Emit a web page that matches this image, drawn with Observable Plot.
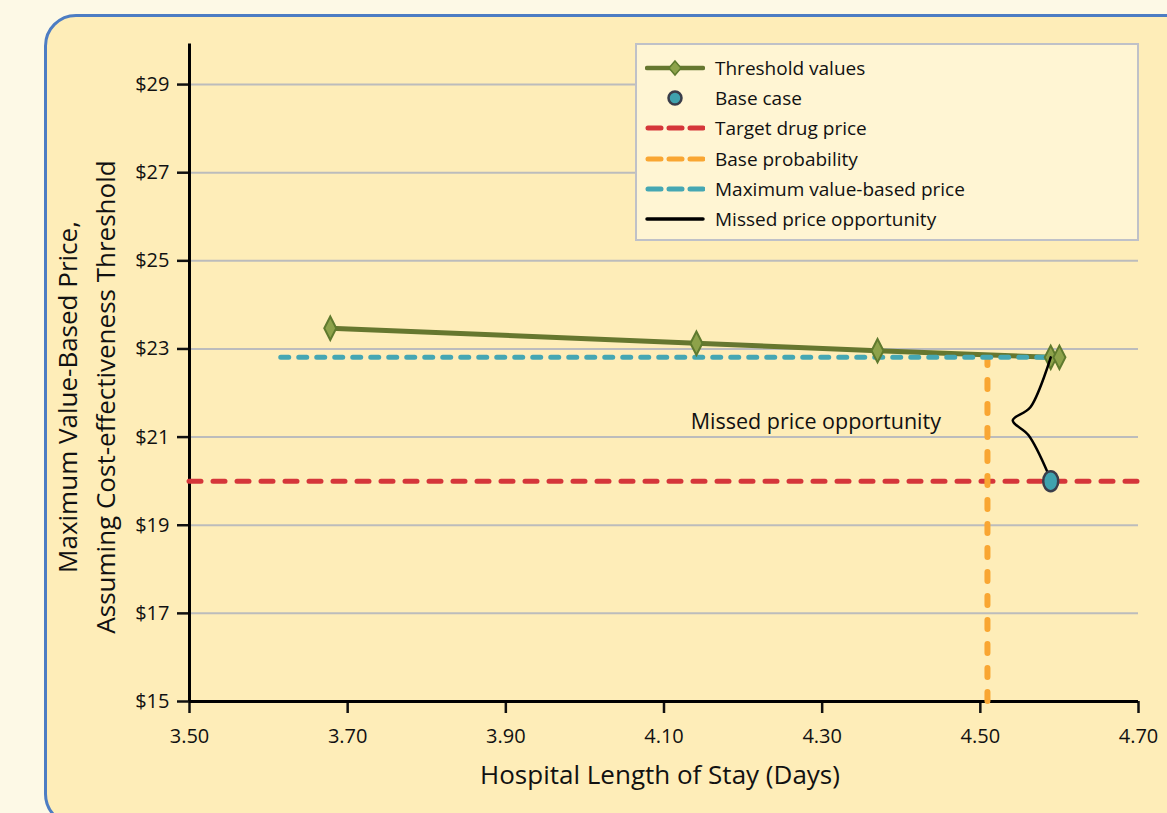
<!DOCTYPE html>
<html>
<head>
<meta charset="utf-8">
<script src="https://cdn.jsdelivr.net/npm/d3@7"></script>
<script src="https://cdn.jsdelivr.net/npm/@observablehq/plot@0.6"></script>
<style>
  html, body { margin: 0; padding: 0; }
  body { width: 1167px; height: 813px; overflow: hidden; background: #fdf9e6; position: relative; font-family: "Open Sans", "Noto Sans", sans-serif; }
  #panel { position: absolute; left: 44px; top: 14px; width: 1200px; height: 812px; border: 3px solid #4d7dc3; border-radius: 32px; background: #feedb8; box-sizing: border-box; }
  #chart { position: absolute; left: 0; top: 0; }
  #legend { position: absolute; left: 635px; top: 43px; width: 504px; height: 198px; background: #fff5d3; border: 2px solid #bfc1c8; box-sizing: border-box; padding-top: 8px; }
  .row { height: 30.2px; display: flex; align-items: center; font-size: 19px; color: #111; }
  .row svg { margin-left: 8px; margin-right: 10px; flex: none; }
</style>
</head>
<body>
<div id="panel"></div>
<div id="chart"></div>
<div id="legend"></div>
<script>
// ---- data ----
const xTicks = [3.5, 3.7, 3.9, 4.1, 4.3, 4.5, 4.7];
const xTickLabels = ["3.50", "3.70", "3.90", "4.10", "4.30", "4.50", "4.70"];
const yTicks = [15, 17, 19, 21, 23, 25, 27, 29];
const yTickLabels = ["$15", "$17", "$19", "$21", "$23", "$25", "$27", "$29"];

const thresholdLOS = [3.678, 4.141, 4.370, 4.589, 4.600];
const thresholdPrice = [23.47, 23.13, 22.96, 22.81, 22.81];

const baseCaseLOS = [4.589];
const baseCasePrice = [20.0];

const targetDrugPrice = [20.0];
const baseProbabilityLOS = [4.509];
const maxValuePrice = [22.81];
const maxValueStartLOS = [3.616];

const missedLOS = [4.589, 4.563, 4.541, 4.561, 4.585, 4.589];
const missedPrice = [22.81, 21.67, 21.38, 21.04, 20.20, 20.0];

const legendLabels = ["Threshold values", "Base case", "Target drug price", "Base probability", "Maximum value-based price", "Missed price opportunity"];
const annotationText = ["Missed price opportunity"];
const xLabel = "Hospital Length of Stay (Days)";
const yLabelLines = ["Maximum Value-Based Price,", "Assuming Cost-effectiveness Threshold"];

// ---- styles ----
const C = {
  green: "#66772f", diamondFill: "#8da24a", diamondStroke: "#5f7a2e",
  red: "#d5363a", orange: "#f9a632", cyan: "#45a7b3",
  dotFill: "#3fa2ae", dotStroke: "#3a3d4a", grid: "#bcbcbc"
};
const tallDiamond = {
  draw(context, size) {
    const r = Math.sqrt(size / Math.PI);
    context.moveTo(0, -r * 1.95);
    context.lineTo(r, 0);
    context.lineTo(0, r * 1.95);
    context.lineTo(-r, 0);
    context.closePath();
  }
};
const tallEllipse = {
  draw(context, size) {
    const ry = Math.sqrt(size / Math.PI), rx = ry * 0.75, k = 0.5523;
    context.moveTo(0, -ry);
    context.bezierCurveTo(rx * k, -ry, rx, -ry * k, rx, 0);
    context.bezierCurveTo(rx, ry * k, rx * k, ry, 0, ry);
    context.bezierCurveTo(-rx * k, ry, -rx, ry * k, -rx, 0);
    context.bezierCurveTo(-rx, -ry * k, -rx * k, -ry, 0, -ry);
    context.closePath();
  }
};

const thresholdData = thresholdLOS.map((x, i) => ({x, y: thresholdPrice[i]}));
const missedData = missedLOS.map((x, i) => ({x, y: missedPrice[i]}));
const baseData = baseCaseLOS.map((x, i) => ({x, y: baseCasePrice[i]}));
const font = "'Open Sans', 'Noto Sans', sans-serif";

const chart = Plot.plot({
  width: 1167,
  height: 813,
  marginLeft: 189,
  marginRight: 29,
  marginTop: 40,
  marginBottom: 112,
  style: {background: "transparent", fontFamily: font, fontSize: "20px", color: "#111", overflow: "visible"},
  x: {domain: [3.5, 4.7]},
  y: {domain: [15, 30]},
  marks: [
    Plot.ruleY(yTicks.filter(d => d > 15), {x1: 3.5, x2: 4.7, stroke: C.grid, strokeWidth: 2}),
    Plot.axisX({ticks: xTicks, tickFormat: (d) => xTickLabels[xTicks.indexOf(d)], tickSize: 12, tickPadding: 15, fontSize: 20, strokeWidth: 2.5, label: null}),
    Plot.axisY({ticks: yTicks, tickFormat: (d) => yTickLabels[yTicks.indexOf(d)], tickSize: 12, tickPadding: 8, fontSize: 20, strokeWidth: 2.5, label: null}),
    Plot.ruleY([15], {x1: 3.5, x2: 4.7, stroke: "#000", strokeWidth: 3}),
    Plot.ruleX([3.5], {y1: 15, y2: 29.92, stroke: "#000", strokeWidth: 3}),
    Plot.ruleY(targetDrugPrice, {x1: 3.5, x2: 4.7, stroke: C.red, strokeWidth: 5, strokeDasharray: "12,12", strokeLinecap: "round"}),
    Plot.ruleX(baseProbabilityLOS, {y1: 15, y2: maxValuePrice[0], stroke: C.orange, strokeWidth: 6, strokeDasharray: "9,15", strokeLinecap: "round"}),
    Plot.line(thresholdData, {x: "x", y: "y", stroke: C.green, strokeWidth: 5}),
    Plot.ruleY(maxValuePrice, {x1: maxValueStartLOS[0], x2: baseCaseLOS[0], stroke: C.cyan, strokeWidth: 5, strokeDasharray: "8,10", strokeLinecap: "round"}),
    Plot.dot(thresholdData, {x: "x", y: "y", symbol: tallDiamond, r: 6, fill: C.diamondFill, stroke: C.diamondStroke, strokeWidth: 2}),
    Plot.line(missedData, {x: "x", y: "y", curve: "catmull-rom", stroke: "#000", strokeWidth: 2.5}),
    Plot.dot(baseData, {x: "x", y: "y", symbol: tallEllipse, r: 10, fill: C.dotFill, stroke: C.dotStroke, strokeWidth: 2.5}),
    Plot.text(annotationText, {x: 4.292, y: 21.33, text: d => d, fontSize: 21.5, fill: "#111"}),
    Plot.text([xLabel], {frameAnchor: "bottom", dx: -4, dy: 82, text: d => d, fontSize: 26, fill: "#111"}),
    Plot.text([yLabelLines[0]], {frameAnchor: "left", textAnchor: "middle", dx: -121, dy: 26, rotate: -90, text: d => d, fontSize: 26, fill: "#111"}),
    Plot.text([yLabelLines[1]], {frameAnchor: "left", textAnchor: "middle", dx: -83, dy: 26, rotate: -90, text: d => d, fontSize: 26, fill: "#111"})
  ]
});
document.getElementById("chart").appendChild(chart);

// ---- legend ----
const legendSymbols = [
  `<svg width="60" height="20"><line x1="2" y1="10" x2="58" y2="10" stroke="${C.green}" stroke-width="4.5" stroke-linecap="round"/><path d="M30,3 L36,10 L30,17 L24,10 Z" fill="${C.diamondFill}" stroke="${C.diamondStroke}" stroke-width="1.5"/></svg>`,
  `<svg width="60" height="20"><circle cx="30" cy="10" r="6.5" fill="${C.dotFill}" stroke="${C.dotStroke}" stroke-width="2.5"/></svg>`,
  `<svg width="60" height="20"><line x1="3" y1="10" x2="58" y2="10" stroke="${C.red}" stroke-width="5" stroke-dasharray="13,8" stroke-linecap="round"/></svg>`,
  `<svg width="60" height="20"><line x1="3" y1="10" x2="58" y2="10" stroke="${C.orange}" stroke-width="5" stroke-dasharray="13,8" stroke-linecap="round"/></svg>`,
  `<svg width="60" height="20"><line x1="3" y1="10" x2="58" y2="10" stroke="${C.cyan}" stroke-width="5" stroke-dasharray="13,8" stroke-linecap="round"/></svg>`,
  `<svg width="60" height="20"><line x1="2" y1="10" x2="58" y2="10" stroke="#000" stroke-width="3.5" stroke-linecap="round"/></svg>`
];
const legend = document.getElementById("legend");
legendLabels.forEach((label, i) => {
  const row = document.createElement("div");
  row.className = "row";
  row.innerHTML = legendSymbols[i];
  const span = document.createElement("span");
  span.textContent = label;
  row.appendChild(span);
  legend.appendChild(row);
});
</script>
</body>
</html>
